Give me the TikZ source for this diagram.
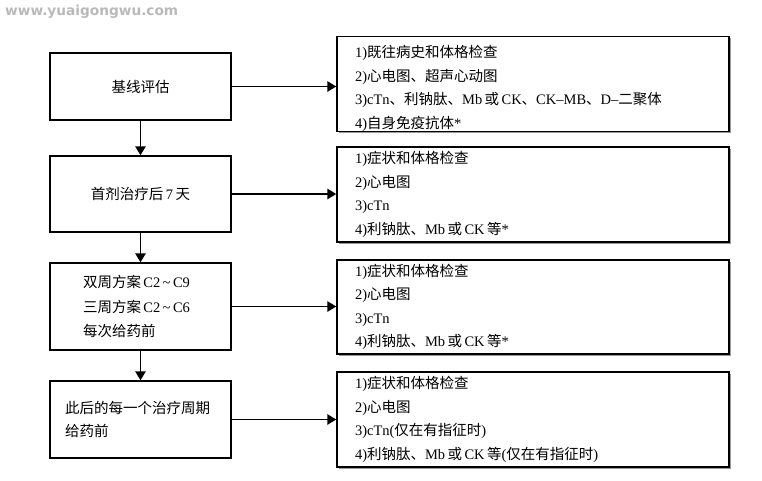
\documentclass[tikz,border=0pt]{standalone}
\usepackage{fontspec}
\setmainfont{Liberation Serif}
\newfontfamily\cjk{Noto Sans CJK SC}
\newfontfamily\wmfont{DejaVu Sans}
\usepackage{tikz}
\usetikzlibrary{shapes,arrows.meta,positioning,shadows}
\definecolor{wmgray}{HTML}{B9B9B9}
\definecolor{shadegray}{HTML}{9A9A9A}
\newcommand{\zh}[1]{{\cjk #1}}
\tikzstyle{arrow} = [-{Triangle[length=9pt,width=10.5pt]}, line width=1.5pt, black]
\tikzstyle{stagebox} = [draw, line width=1.5pt, minimum width=181pt, inner ysep=0pt]
\tikzstyle{checkbox} = [draw, line width=1.5pt, text width=356pt, inner xsep=18pt, inner ysep=0pt, align=left,
  drop shadow={shadow xshift=1.5pt, shadow yshift=-1.5pt, fill=shadegray, opacity=1},
  fill=white, font=\fontsize{14.5}{23.5}\selectfont]

\begin{document}
\begin{tikzpicture}[x=1pt, y=-1pt, font=\fontsize{14.5}{17}\selectfont]
\useasboundingbox (0,0) rectangle (762,480);
\node[anchor=west, text=wmgray, inner sep=0pt] at (5,12) (wm) {\resizebox{173pt}{!}{\wmfont\bfseries www.yuaigongwu.com}};
% stages
\node[stagebox, minimum height=67pt, align=center] at (140.5,86.5) (b1) {\zh{基线评估}};
\node[stagebox, minimum height=76pt, align=center] at (140.5,194) (b2) {\zh{首剂治疗后}\,7\,\zh{天}};
\node[stagebox, minimum height=87pt, text width=115pt, inner xsep=33pt, align=left,
  font=\fontsize{14.5}{24.5}\selectfont] at (140.5,306.5) (b3)
  {\zh{双周方案}\,C2\,\textasciitilde\,C9\\ \zh{三周方案}\,C2\,\textasciitilde\,C6\\ \zh{每次给药前}};
\node[stagebox, minimum height=77pt, text width=151pt, inner xsep=15pt, align=left,
  font=\fontsize{14.5}{23}\selectfont] at (140.5,419.5) (b4)
  {\zh{此后的每一个治疗周期}\\ \zh{给药前}};
% checks
\node[checkbox, minimum height=88pt] at (533,84) (r1)
  {\rule{0pt}{21.5pt}1)\zh{既往病史和体格检查}\\
   2)\zh{心电图、超声心动图}\\
   3)cTn\zh{、利钠肽、}Mb\,\zh{或}\,CK\zh{、}CK--MB\zh{、}D--\zh{二聚体}\\
   4)\zh{自身免疫抗体}*};
\node[checkbox, minimum height=95pt] at (533,194.5) (r2)
  {1)\zh{症状和体格检查}\\
   2)\zh{心电图}\\
   3)cTn\\
   4)\zh{利钠肽、}Mb\,\zh{或}\,CK\,\zh{等}*};
\node[checkbox, minimum height=94pt] at (533,307) (r3)
  {1)\zh{症状和体格检查}\\
   2)\zh{心电图}\\
   3)cTn\\
   4)\zh{利钠肽、}Mb\,\zh{或}\,CK\,\zh{等}*};
\node[checkbox, minimum height=95pt] at (533,419.5) (r4)
  {1)\zh{症状和体格检查}\\
   2)\zh{心电图}\\
   3)cTn(\zh{仅在有指征时})\\
   4)\zh{利钠肽、}Mb\,\zh{或}\,CK\,\zh{等}(\zh{仅在有指征时})};
% arrows
\draw[arrow] (b1) -- (b2);
\draw[arrow] (b2) -- (b3);
\draw[arrow] (b3) -- (b4);
\draw[arrow] (b1.east) -- (b1.east -| r1.west);
\draw[arrow] (b2.east) -- (b2.east -| r2.west);
\draw[arrow] (b3.east) -- (b3.east -| r3.west);
\draw[arrow] (b4.east) -- (b4.east -| r4.west);
\end{tikzpicture}
\end{document}
